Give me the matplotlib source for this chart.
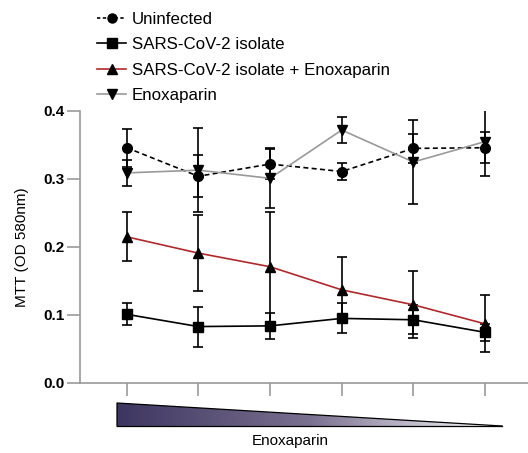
import numpy as np
import matplotlib
matplotlib.use("Agg")
import matplotlib.pyplot as plt
from matplotlib.patches import Polygon
from matplotlib.colors import LinearSegmentedColormap
from matplotlib.lines import Line2D

plt.rcParams['font.family'] = ['Liberation Sans', 'DejaVu Sans']

doses = [1, 2, 3, 4, 5, 6]
uninfected = [0.346, 0.304, 0.322, 0.311, 0.345, 0.346]
uninfected_err = [0.028, 0.031, 0.022, 0.013, 0.021, 0.023]
isolate = [0.101, 0.083, 0.084, 0.095, 0.093, 0.0745]
isolate_err = [0.016, 0.0295, 0.019, 0.022, 0.021, 0.013]
isolate_enox = [0.215, 0.191, 0.171, 0.137, 0.115, 0.087]
isolate_enox_err = [0.036, 0.056, 0.081, 0.048, 0.049, 0.042]
enox = [0.309, 0.313, 0.301, 0.372, 0.325, 0.355]
enox_err = [0.019, 0.062, 0.044, 0.019, 0.062, 0.05]

labels = ["Uninfected", "SARS-CoV-2 isolate", "SARS-CoV-2 isolate + Enoxaparin", "Enoxaparin"]

W, H = 528, 453
fig = plt.figure(figsize=(W / 100, H / 100), dpi=100)

# background axes for gradient triangle and label
bg = fig.add_axes([0, 0, 1, 1], zorder=0)
bg.set_xlim(0, W)
bg.set_ylim(H, 0)
bg.axis('off')
cmap = LinearSegmentedColormap.from_list('g', ['#3d3660', '#7a7090', '#ffffff'])
grad = np.linspace(0, 1, 256).reshape(1, -1)
tri = Polygon([[117, 403], [117, 426], [502, 426]], closed=True,
              facecolor='none', edgecolor='none')
bg.add_patch(tri)
im = bg.imshow(grad, cmap=cmap, extent=[117, 502, 426, 403], aspect='auto')
im.set_clip_path(tri)
bg.plot([117, 117, 502], [426, 403, 426], color='black', lw=0.9)
bg.plot([117, 502], [426, 426], color='black', lw=0.9)
bg.text(290, 441, "Enoxaparin", ha='center', va='center', fontsize=11)

ax = fig.add_axes([80 / W, 1 - 383 / H, 1 - 80 / W, (383 - 111) / H], zorder=1)
ax.patch.set_alpha(0)

ekw = dict(ecolor='black', elinewidth=1.2, capsize=3.4, capthick=1.2)
ax.errorbar(doses, uninfected, yerr=uninfected_err, fmt='o', ls=(0, (3, 2)),
            color='black', lw=1.2, ms=7, mfc='black', mec='black', **ekw)
ax.errorbar(doses, isolate, yerr=isolate_err, fmt='s', ls='-',
            color='black', lw=1.2, ms=7, **ekw)
ax.errorbar(doses, isolate_enox, yerr=isolate_enox_err, fmt='^', ls='-',
            color='#b0282c', lw=1.2, ms=7, mfc='black', mec='black', **ekw)
ax.errorbar(doses, enox, yerr=enox_err, fmt='v', ls='-',
            color='#999999', lw=1.2, ms=7, mfc='black', mec='black', **ekw)

ax.set_xlim(0.348, 6.6)
ax.set_ylim(0, 0.4)
ax.set_xticks(doses)
ax.set_xticklabels([])
ax.set_yticks([0.0, 0.1, 0.2, 0.3, 0.4])
ax.set_yticklabels(["0.0", "0.1", "0.2", "0.3", "0.4"], fontweight='bold', fontsize=11)
for s in ['top', 'right']:
    ax.spines[s].set_visible(False)
for s in ['left', 'bottom']:
    ax.spines[s].set_color('#999999')
    ax.spines[s].set_linewidth(1.2)
ax.tick_params(axis='both', color='#999999', width=1.2, length=9.4)
ax.tick_params(axis='y', pad=2)
ax.set_ylabel("MTT (OD 580nm)", fontsize=11, labelpad=10)

handles = [
    Line2D([], [], color='black', ls=(0, (2, 1.5)), marker='o', ms=6.5, lw=1.2),
    Line2D([], [], color='black', ls='-', marker='s', ms=6.5, lw=1.2),
    Line2D([], [], color='#b0282c', ls='-', marker='^', ms=6.5, lw=1.2, mfc='black', mec='black'),
    Line2D([], [], color='#999999', ls='-', marker='v', ms=6.5, lw=1.2, mfc='black', mec='black'),
]
fig.legend(handles, labels, loc='upper left', bbox_to_anchor=(90 / W, 1 - 5 / H),
           frameon=False, fontsize=12.2, handlelength=1.75, handletextpad=0.3,
           labelspacing=0.62, borderaxespad=0)

fig.savefig("out.png", dpi=100)
